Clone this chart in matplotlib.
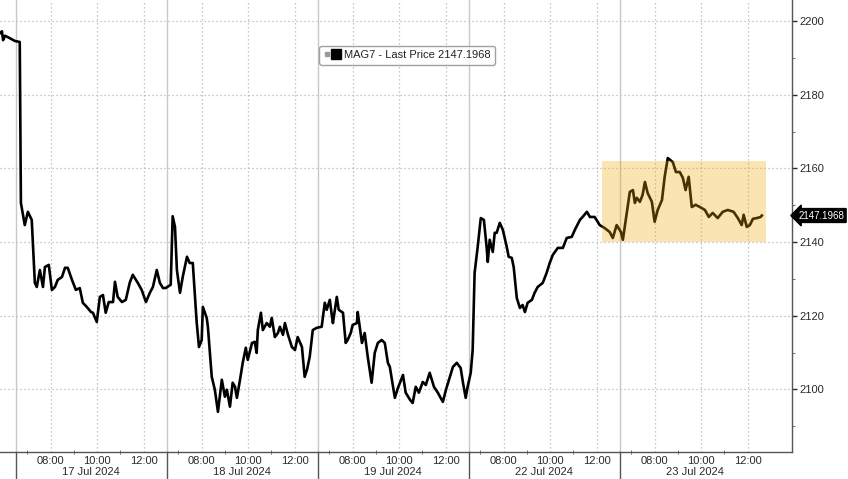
import matplotlib
matplotlib.use("Agg")
import matplotlib.pyplot as plt
import matplotlib.transforms as mtransforms
from matplotlib.lines import Line2D
from matplotlib.legend_handler import HandlerTuple
from matplotlib.patches import Rectangle

plt.rcParams['font.family'] = ['Liberation Sans', 'DejaVu Sans']

# ---------------- data ----------------
sessions = ["16 Jul 2024", "17 Jul 2024", "18 Jul 2024", "19 Jul 2024", "22 Jul 2024", "23 Jul 2024"]
session_open = "06:30"
session_close = "13:00"

jul16_times = ["12:19", "12:24", "12:27", "12:32", "12:45", "12:57"]
jul16_prices = [2196.7, 2197.2, 2194.8, 2196.0, 2195.3, 2194.6]

jul17_times = ["06:40", "06:43", "06:53", "07:01", "07:11", "07:19", "07:24", "07:32", "07:40", "07:45",
               "07:55", "08:03", "08:11", "08:18", "08:29", "08:37", "08:44", "08:55", "09:05", "09:15",
               "09:23", "09:33", "09:44", "09:49", "09:59", "10:07", "10:15", "10:22", "10:30", "10:41",
               "10:46", "10:53", "11:04", "11:14", "11:24", "11:32", "11:45", "11:55", "12:06", "12:16",
               "12:24", "12:34", "12:42", "12:50", "12:57"]
jul17_prices = [2194.3, 2150.6, 2144.6, 2148.2, 2146.0, 2128.9, 2127.8, 2132.4, 2127.8, 2133.2,
                2133.8, 2127.0, 2127.8, 2129.7, 2130.5, 2133.0, 2133.0, 2129.7, 2127.0, 2127.5,
                2123.5, 2122.4, 2121.0, 2120.8, 2118.3, 2125.1, 2125.6, 2120.8, 2123.7, 2123.7,
                2129.2, 2125.1, 2123.7, 2124.3, 2128.9, 2131.1, 2128.9, 2127.0, 2123.7, 2126.2,
                2127.8, 2132.4, 2128.9, 2127.5, 2127.5]

jul18_times = ["06:40", "06:45", "06:51", "06:56", "07:04", "07:11", "07:22", "07:29", "07:37", "07:47",
               "07:53", "08:00", "08:03", "08:13", "08:16", "08:26", "08:34", "08:42", "08:52", "09:00",
               "09:05", "09:13", "09:20", "09:26", "09:31", "09:39", "09:46", "09:54", "09:59", "10:10",
               "10:17", "10:22", "10:25", "10:33", "10:38", "10:48", "10:56", "11:01", "11:09", "11:17",
               "11:22", "11:30", "11:35", "11:43", "11:53", "12:01", "12:08", "12:19", "12:26", "12:32",
               "12:39", "12:47", "12:57"]
jul18_prices = [2128.4, 2147.0, 2144.1, 2132.4, 2126.2, 2130.5, 2136.0, 2134.3, 2134.3, 2118.3,
                2111.5, 2113.4, 2122.4, 2119.4, 2117.0, 2103.4, 2099.9, 2093.9, 2102.6, 2098.0,
                2099.9, 2095.3, 2101.8, 2100.7, 2097.7, 2102.6, 2107.2, 2111.3, 2108.0, 2112.6,
                2112.9, 2109.9, 2116.1, 2120.8, 2116.1, 2118.0, 2117.0, 2119.4, 2114.2, 2115.3,
                2117.0, 2114.8, 2118.0, 2114.8, 2111.5, 2110.7, 2114.2, 2111.5, 2103.4, 2105.3,
                2108.8, 2116.1, 2116.7]

jul19_times = ["06:40", "06:48", "06:53", "07:01", "07:06", "07:09", "07:19", "07:24", "07:35", "07:42",
               "07:47", "07:55", "08:00", "08:11", "08:13", "08:24", "08:31", "08:39", "08:49", "08:57",
               "09:05", "09:15", "09:23", "09:31", "09:36", "09:49", "09:57", "10:10", "10:17", "10:28",
               "10:35", "10:43", "10:51", "11:01", "11:09", "11:19", "11:30", "11:40", "11:53", "12:01",
               "12:11", "12:19", "12:29", "12:39", "12:45", "12:52", "12:57"]
jul19_prices = [2117.0, 2123.5, 2121.6, 2124.3, 2120.2, 2118.0, 2125.1, 2121.6, 2120.8, 2112.6,
                2113.4, 2115.3, 2117.5, 2118.0, 2121.0, 2112.6, 2115.3, 2108.8, 2101.8, 2109.9,
                2112.6, 2113.4, 2112.6, 2107.2, 2106.1, 2097.7, 2100.4, 2103.9, 2099.1, 2097.2,
                2096.3, 2100.7, 2099.1, 2102.0, 2101.2, 2104.5, 2100.7, 2099.1, 2096.6, 2099.9,
                2103.4, 2106.1, 2107.2, 2105.8, 2101.8, 2097.7, 2100.7]

jul22_times = ["06:35", "06:40", "06:45", "06:53", "07:01", "07:09", "07:16", "07:19", "07:24", "07:32",
               "07:37", "07:42", "07:50", "07:58", "08:08", "08:13", "08:21", "08:26", "08:34", "08:42",
               "08:49", "08:55", "09:02", "09:13", "09:20", "09:28", "09:41", "09:51", "09:59", "10:07",
               "10:20", "10:33", "10:43", "10:56", "11:04", "11:17", "11:24", "11:35", "11:43", "11:55",
               "12:03", "12:08", "12:21", "12:34", "12:42", "12:52"]
jul22_prices = [2104.5, 2110.7, 2131.6, 2138.7, 2146.5, 2146.0, 2138.7, 2134.6, 2140.6, 2137.3,
                2142.5, 2142.5, 2145.2, 2143.3, 2138.7, 2136.0, 2135.7, 2133.2, 2124.8, 2122.1,
                2122.9, 2121.0, 2123.5, 2124.3, 2126.2, 2127.8, 2128.9, 2131.6, 2134.3, 2136.5,
                2138.4, 2138.4, 2141.1, 2141.4, 2143.3, 2146.0, 2146.8, 2148.2, 2146.8, 2146.8,
                2145.5, 2144.6, 2143.8, 2142.7, 2141.1, 2144.6]

jul23_times = ["06:33", "06:38", "06:48", "06:56", "07:04", "07:09", "07:14", "07:22", "07:29", "07:35",
               "07:42", "07:53", "08:00", "08:08", "08:19", "08:26", "08:34", "08:47", "08:55", "09:05",
               "09:13", "09:20", "09:28", "09:36", "09:46", "09:57", "10:10", "10:20", "10:30", "10:43",
               "10:56", "11:09", "11:24", "11:35", "11:45", "11:50", "11:58", "12:06", "12:14", "12:24",
               "12:34", "12:37"]
jul23_prices = [2142.7, 2140.6, 2147.9, 2153.6, 2154.1, 2150.6, 2152.0, 2150.9, 2152.8, 2156.3,
                2153.3, 2150.9, 2145.5, 2148.7, 2151.4, 2157.7, 2162.8, 2161.7, 2159.0, 2159.0,
                2157.4, 2154.1, 2157.7, 2149.5, 2150.1, 2149.5, 2148.7, 2146.8, 2147.9, 2146.5,
                2148.2, 2148.7, 2148.2, 2146.5, 2144.6, 2147.4, 2144.1, 2144.6, 2146.3, 2146.5,
                2146.8, 2147.1968]

last_price = 2147.1968
series_name = "MAG7 - Last Price"

labeled_times = ["08:00", "10:00", "12:00"]
minor_times = ["07:00", "09:00", "11:00"]
y_ticks = [2100, 2120, 2140, 2160, 2180, 2200]
y_minor = [2090, 2110, 2130, 2150, 2170, 2190]

hl_start = ("22 Jul 2024", "12:14")
hl_end = ("23 Jul 2024", "12:47")
hl_low, hl_high = 2140, 2162

view_start = ("16 Jul 2024", "12:19")
view_end_minutes_after_last_close = 55
y_lim = (2083.0, 2205.7)

day_data = [(jul16_times, jul16_prices), (jul17_times, jul17_prices), (jul18_times, jul18_prices),
            (jul19_times, jul19_prices), (jul22_times, jul22_prices), (jul23_times, jul23_prices)]

# ---------------- session-compressed time scale ----------------
def _mins(t):
    h, m = t.split(":")
    return int(h) * 60 + int(m)

SESSION_LEN = _mins(session_close) - _mins(session_open)


def xpos(day, t):
    return sessions.index(day) * SESSION_LEN + _mins(t) - _mins(session_open)


xs, ys = [], []
for day, (tt, pp) in zip(sessions, day_data):
    xs += [xpos(day, t) for t in tt]
    ys += list(pp)

# ---------------- figure ----------------
fig = plt.figure(figsize=(8.48, 4.79), dpi=100)
ax = fig.add_axes([0.0, 0.0564, 0.934, 0.9436])

grid_c = "#b4b4b4"
for yv in y_ticks:
    ax.axhline(yv, color=grid_c, lw=0.9, ls=(0, (1, 2.2)), zorder=1)
for day in sessions[1:]:
    for t in labeled_times:
        ax.axvline(xpos(day, t), color=grid_c, lw=0.9, ls=(0, (1, 2.2)), zorder=1)
    # day separators
    ax.axvline(xpos(day, session_open), color="#c8c8c8", lw=1.0, zorder=1)
    ax.plot([xpos(day, session_open)] * 2, [-0.065, 0], transform=ax.get_xaxis_transform(),
            color="#555555", lw=1.0, clip_on=False, zorder=1)

ax.plot(xs, ys, color="black", lw=1.9, solid_joinstyle="round", zorder=3)

# highlight box
hx0 = xpos(*hl_start)
hx1 = xpos(*hl_end)
ax.add_patch(Rectangle((hx0, hl_low), hx1 - hx0, hl_high - hl_low,
                       facecolor="#eea800", alpha=0.3, edgecolor="none", zorder=4))

ax.set_xlim(xpos(*view_start), len(sessions) * SESSION_LEN + view_end_minutes_after_last_close)
ax.set_ylim(*y_lim)

# x ticks
major = [xpos(d, t) for d in sessions[1:] for t in labeled_times]
minor = [xpos(d, t) for d in sessions[1:] for t in minor_times]
ax.set_xticks(major)
ax.set_xticklabels([t for d in sessions[1:] for t in labeled_times])
ax.set_xticks(minor, minor=True)
ax.tick_params(axis="x", which="major", length=0, pad=3, labelsize=8, colors="#2a2a2a")
ax.tick_params(axis="x", which="minor", length=2.5, direction="inout", color="#555555")
for d in sessions[1:]:
    cx = (xpos(d, session_open) + xpos(d, session_close)) / 2
    ax.text(cx, -0.045, d, transform=ax.get_xaxis_transform(), ha="center", va="center",
            fontsize=8, color="#2a2a2a")

# y axis on right
ax.yaxis.tick_right()
ax.set_yticks(y_ticks)
ax.set_yticks(y_minor, minor=True)
ax.set_yticklabels([str(v) for v in y_ticks])
ax.tick_params(axis="y", which="major", length=3.5, width=1.0, pad=2, labelsize=8,
               colors="#2a2a2a", direction="out")
ax.tick_params(axis="y", which="minor", length=2, width=0.8, color="#777777", direction="out")

for s in ["top", "left"]:
    ax.spines[s].set_visible(False)
ax.spines["right"].set_color("#555555")
ax.spines["bottom"].set_color("#555555")
ax.spines["right"].set_linewidth(1.0)
ax.spines["bottom"].set_linewidth(1.0)

# legend
h_small = Line2D([], [], ls="none", marker="s", markersize=3.5, color="#9a9a9a")
h_big = Line2D([], [], ls="none", marker="s", markersize=7, color="black")
leg = ax.legend([(h_small, h_big)], [f"{series_name} {last_price:.4f}"],
                handler_map={tuple: HandlerTuple(ndivide=None, pad=0.1)},
                loc="center", bbox_to_anchor=(0.514, 0.878), fontsize=8,
                frameon=True, fancybox=True, handlelength=1.4, handletextpad=0.4,
                borderpad=0.4, edgecolor="#8a8a8a")
leg.get_frame().set_linewidth(1.0)
for txt in leg.get_texts():
    txt.set_color("#222222")

# last price tag
trans = mtransforms.blended_transform_factory(ax.transAxes, ax.transData)
ax.annotate(f"{last_price:.4f}", xy=(1.0, last_price), xycoords=trans,
            xytext=(4.5, 0), textcoords="offset points", ha="left", va="center",
            fontsize=7, color="white", annotation_clip=False,
            bbox=dict(boxstyle="larrow,pad=0.2", fc="black", ec="black"))

fig.savefig("out.png", dpi=100)
